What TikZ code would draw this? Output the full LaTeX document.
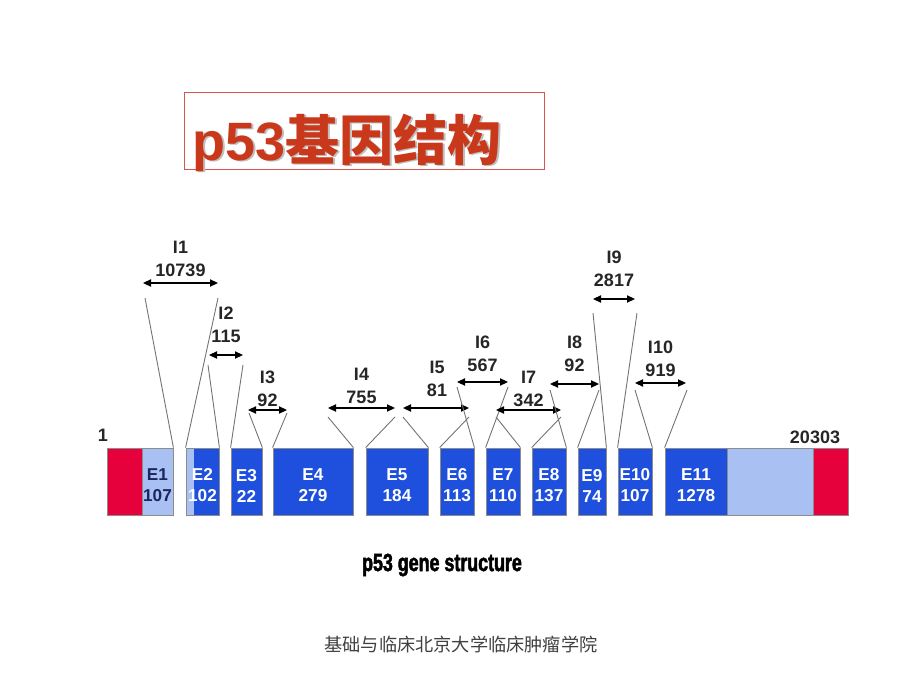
\documentclass[tikz,border=0pt]{standalone}
\usepackage{fontspec}
\setmainfont{Liberation Sans}
\newfontfamily\cjk{Noto Sans CJK SC}
\newfontfamily\capfont[FakeStretch=0.72,FakeBold=2]{Liberation Sans}
\usetikzlibrary{arrows.meta}
\definecolor{exonblue}{HTML}{1E4FDD}
\definecolor{exonlight}{HTML}{A9C0F2}
\definecolor{utrred}{HTML}{E6003C}
\definecolor{titlered}{HTML}{C9381A}
\definecolor{boxred}{HTML}{D9534F}
\definecolor{navy}{HTML}{1B2660}
\def\exon[#1](#2)(#3:#4)#5{\node[exon,#1,minimum width={(#4-#3)*0.5pt}] (#2) at ({(#3+#4)/2},481.5) {\rule{0pt}{10pt}#5};}

\begin{document}
\begin{tikzpicture}[x=0.5pt,y=-0.5pt,
  exon/.style={draw=black!45, line width=0.4pt, fill=exonblue, text=white, align=center,
    font=\bfseries\fontsize{8.6}{10.5}\selectfont, minimum height=33.5pt, inner sep=0pt},
  ilabel/.style={align=center, inner sep=0pt, text=black!85, font=\bfseries\fontsize{9}{11.5}\selectfont},
  dimarrow/.style={line width=0.7pt, {Triangle[length=4pt,width=3.6pt]}-{Triangle[length=4pt,width=3.6pt]}},
  leg/.style={line width=0.45pt, color=black!55}]
  %%%%% START %%%%%
  \useasboundingbox (0,0) rectangle (920,690);

  % title
  \draw[line width=0.5pt, color=boxred] (184,93) rectangle (544,169);
  \node[anchor=base west, inner sep=0pt, text=black!25, font=\fontsize{27}{30}\selectfont] (tshadow) at (194,162) {{\bfseries p53}{\cjk\bfseries 基因结构}};
  \node[anchor=base west, inner sep=0pt, text=titlered, font=\fontsize{27}{30}\selectfont] (title) at (192,160) {{\bfseries p53}{\cjk\bfseries 基因结构}};

  % exons
  \exon[fill=utrred](u5)(107:142){}
  \exon[fill=exonlight, text=navy](e1)(142:173){E1\\107}
  \exon[path picture={\fill[exonlight] (path picture bounding box.south west) rectangle ([xshift=4pt]path picture bounding box.north west);}](e2)(186:219){E2\\102}
  \exon[](e3)(231:262){E3\\22}
  \exon[](e4)(273:353){E4\\279}
  \exon[](e5)(366:428){E5\\184}
  \exon[](e6)(440:474){E6\\113}
  \exon[](e7)(486:520){E7\\110}
  \exon[](e8)(532:566){E8\\137}
  \exon[](e9)(578:606){E9\\74}
  \exon[](e10)(618:652){E10\\107}
  \exon[](e11)(665:727){E11\\1278}
  \exon[fill=exonlight](u3)(727:813){}
  \exon[fill=utrred](u3r)(813:848){}

  \node[ilabel] (start) at (103,435) {1};
  \node[ilabel] (end) at (815,437) {20303};

  % intron 1
  \coordinate (i1a) at (143,283); \coordinate (i1b) at (218,283);
  \draw[dimarrow] (i1a) -- (i1b);
  \node[ilabel] (i1) at (180.5,259) {I1\\10739};
  \coordinate (i1c) at (145,298); \coordinate (i1d) at (218,298);
  \draw[leg] (i1c) -- (e1.north east);
  \draw[leg] (i1d) -- (e2.north west);

  % intron 2
  \coordinate (i2a) at (209,355); \coordinate (i2b) at (243,355);
  \draw[dimarrow] (i2a) -- (i2b);
  \node[ilabel] (i2) at (226,325) {I2\\115};
  \coordinate (i2c) at (208,365); \coordinate (i2d) at (243,365);
  \draw[leg] (i2c) -- (e2.north east);
  \draw[leg] (i2d) -- (e3.north west);

  % intron 3
  \coordinate (i3a) at (248,410); \coordinate (i3b) at (287,410);
  \draw[dimarrow] (i3a) -- (i3b);
  \node[ilabel] (i3) at (267.5,388.5) {I3\\92};
  \coordinate (i3c) at (249,413); \coordinate (i3d) at (287,413);
  \draw[leg] (i3c) -- (e3.north east);
  \draw[leg] (i3d) -- (e4.north west);

  % intron 4
  \coordinate (i4a) at (328,408); \coordinate (i4b) at (395,408);
  \draw[dimarrow] (i4a) -- (i4b);
  \node[ilabel] (i4) at (361.5,386) {I4\\755};
  \coordinate (i4c) at (328,417); \coordinate (i4d) at (395,417);
  \draw[leg] (i4c) -- (e4.north east);
  \draw[leg] (i4d) -- (e5.north west);

  % intron 5
  \coordinate (i5a) at (403,408); \coordinate (i5b) at (469,408);
  \draw[dimarrow] (i5a) -- (i5b);
  \node[ilabel] (i5) at (437,378.5) {I5\\81};
  \coordinate (i5c) at (403,417); \coordinate (i5d) at (469,417);
  \draw[leg] (i5c) -- (e5.north east);
  \draw[leg] (i5d) -- (e6.north west);

  % intron 6
  \coordinate (i6a) at (457,382); \coordinate (i6b) at (508,382);
  \draw[dimarrow] (i6a) -- (i6b);
  \node[ilabel] (i6) at (482.5,354) {I6\\567};
  \coordinate (i6c) at (457,387); \coordinate (i6d) at (508,387);
  \draw[leg] (i6c) -- (e6.north east);
  \draw[leg] (i6d) -- (e7.north west);

  % intron 7
  \coordinate (i7a) at (496,410); \coordinate (i7b) at (561,410);
  \draw[dimarrow] (i7a) -- (i7b);
  \node[ilabel] (i7) at (528.5,388.5) {I7\\342};
  \coordinate (i7c) at (496,417); \coordinate (i7d) at (561,417);
  \draw[leg] (i7c) -- (e7.north east);
  \draw[leg] (i7d) -- (e8.north west);

  % intron 8
  \coordinate (i8a) at (550,384); \coordinate (i8b) at (599,384);
  \draw[dimarrow] (i8a) -- (i8b);
  \node[ilabel] (i8) at (574.5,354) {I8\\92};
  \coordinate (i8c) at (550,390); \coordinate (i8d) at (599,390);
  \draw[leg] (i8c) -- (e8.north east);
  \draw[leg] (i8d) -- (e9.north west);

  % intron 9
  \coordinate (i9a) at (593,299); \coordinate (i9b) at (635,299);
  \draw[dimarrow] (i9a) -- (i9b);
  \node[ilabel] (i9) at (614,269) {I9\\2817};
  \coordinate (i9c) at (593,313); \coordinate (i9d) at (637,313);
  \draw[leg] (i9c) -- (e9.north east);
  \draw[leg] (i9d) -- (e10.north west);

  % intron 10
  \coordinate (i10a) at (635,383); \coordinate (i10b) at (686,383);
  \draw[dimarrow] (i10a) -- (i10b);
  \node[ilabel] (i10) at (660.5,358.5) {I10\\919};
  \coordinate (i10c) at (635,390); \coordinate (i10d) at (687,390);
  \draw[leg] (i10c) -- (e10.north east);
  \draw[leg] (i10d) -- (e11.north west);

  % captions
  \node[inner sep=0pt, font=\capfont\bfseries\fontsize{12.4}{14}\selectfont] (caption) at (442,565) {p53 gene structure};
  \node[inner sep=0pt, text=black!75, font=\cjk\fontsize{9.1}{11}\selectfont] (footer) at (461,645) {基础与临床北京大学临床肿瘤学院};
  %%%%% END %%%%%
\end{tikzpicture}
\end{document}
